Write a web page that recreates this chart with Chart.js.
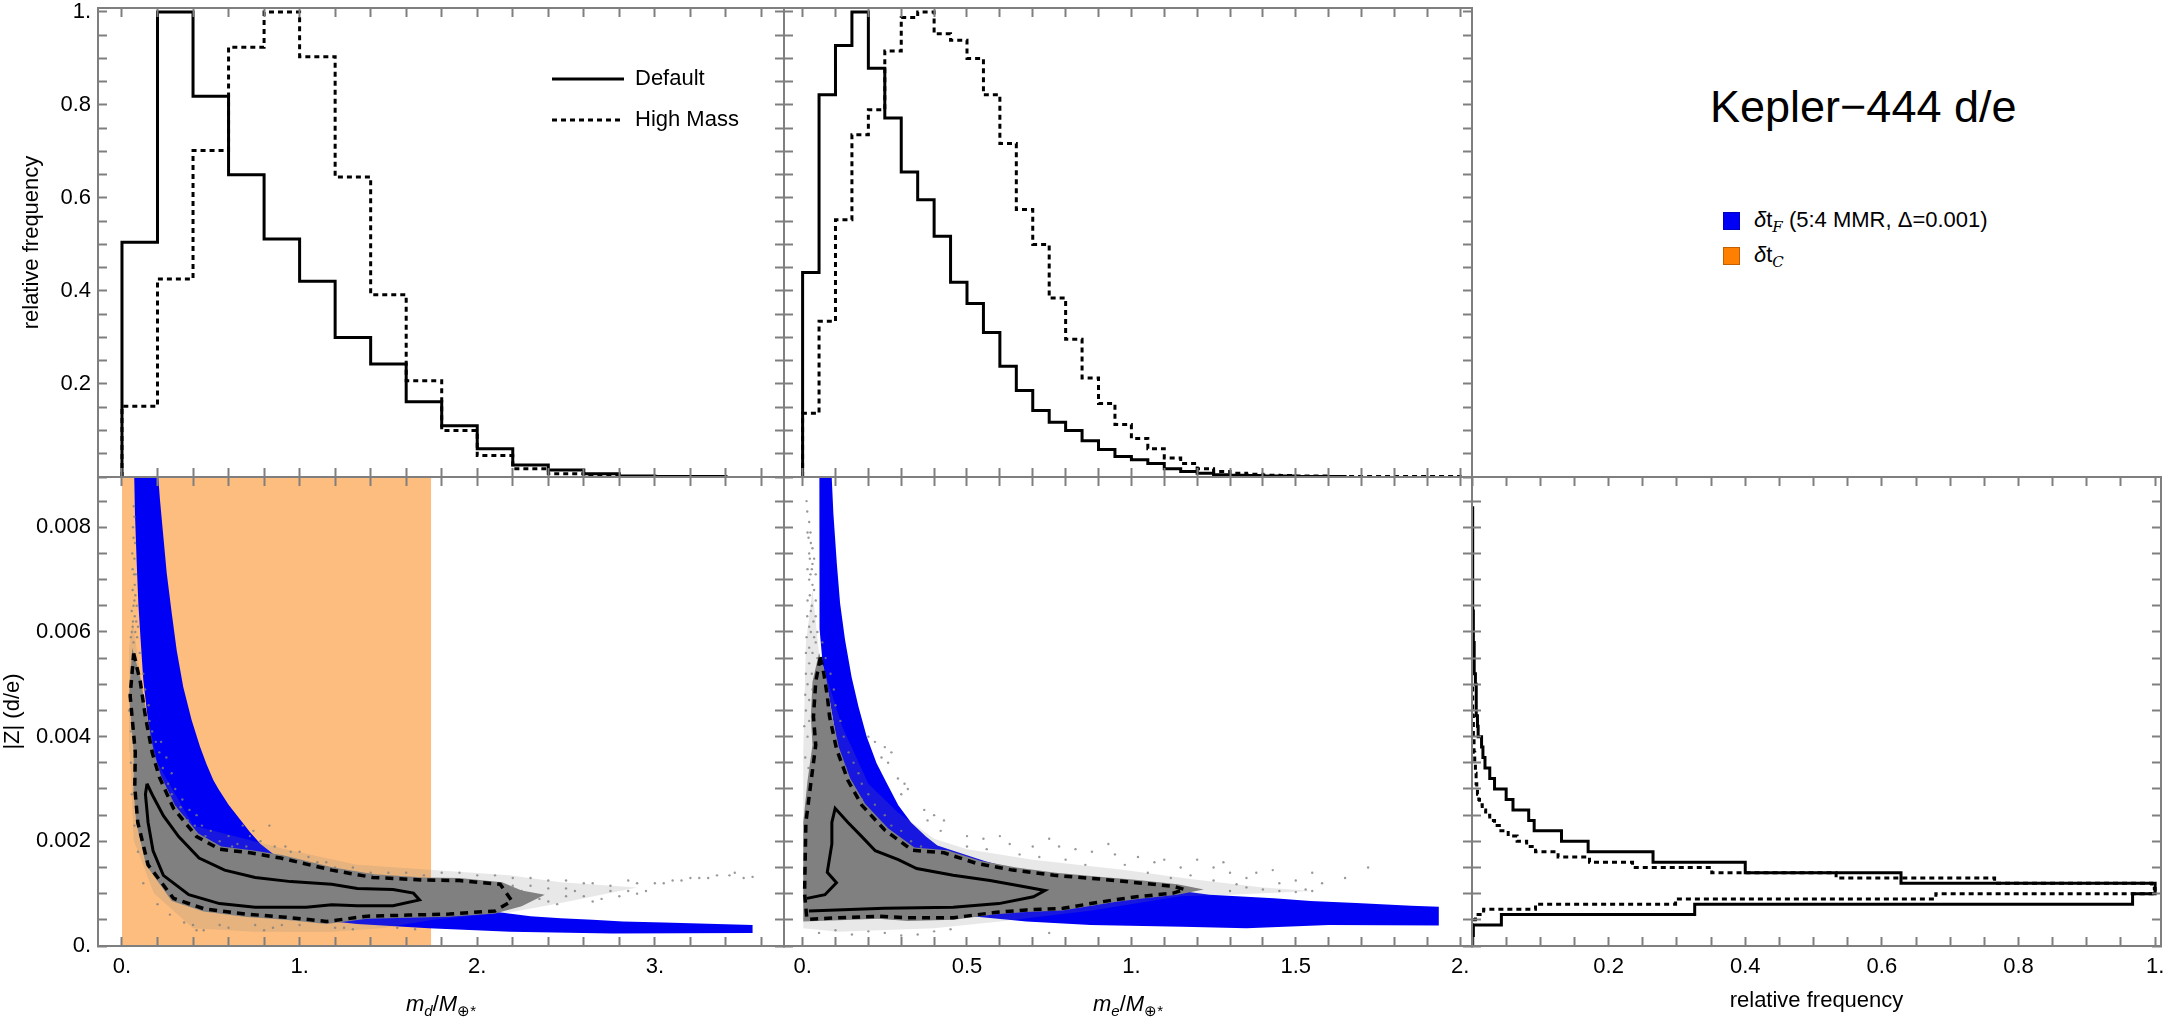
<!DOCTYPE html>
<html>
<head>
<meta charset="utf-8">
<title>Kepler-444 d/e</title>
<script src="https://cdn.jsdelivr.net/npm/chart.js@4/dist/chart.umd.min.js"></script>
<style>
  body { margin: 0; background: #fff; font-family: "Liberation Sans", Arial, sans-serif; color: #000; }
  canvas { position: absolute; }
  .txt { position: absolute; white-space: nowrap; font-size: 22px; line-height: 28px; }
  .txt sub { font-size: 15px; line-height: 0; }
  .xtitle { text-align: center; top: 990px; }
  .swatch { position: absolute; width: 15px; height: 16px; border: 1px solid; }
  .script { font-family: "DejaVu Serif", serif; font-style: italic; }
</style>
</head>
<body>
<canvas id="histD"></canvas>
<canvas id="histE"></canvas>
<canvas id="scatterD"></canvas>
<canvas id="scatterE"></canvas>
<canvas id="histZ"></canvas>

<div class="txt" style="left:1710px; top:84px; font-size:45px; line-height:45px;">Kepler−444 d/e</div>
<div class="swatch" style="left:1723px; top:212px; background:#0000f5; border-color:#0000c0;"></div>
<div class="txt" style="left:1754px; top:206px;"><i>δ</i>t<sub class="script">F</sub> (5:4 MMR, Δ=0.001)</div>
<div class="swatch" style="left:1723px; top:247px; background:#ff8000; border-color:#c06000;"></div>
<div class="txt" style="left:1754px; top:241px;"><i>δ</i>t<sub class="script">C</sub></div>
<div class="txt xtitle" style="left:98px; width:686px;"><i>m<sub>d</sub></i>/<i>M</i><sub>⊕*</sub></div>
<div class="txt xtitle" style="left:784px; width:688px;"><i>m<sub>e</sub></i>/<i>M</i><sub>⊕*</sub></div>

<script>
// tick positions and labels
const freqTicks = [0, 0.2, 0.4, 0.6, 0.8, 1];
const freqLabels = ['', '0.2', '0.4', '0.6', '0.8', '1.'];
const massDTicks = [0, 1, 2, 3];
const massDLabels = ['0.', '1.', '2.', '3.'];
const massETicks = [0, 0.5, 1, 1.5, 2];
const massELabels = ['0.', '0.5', '1.', '1.5', '2.'];
const zTicks = [0, 0.002, 0.004, 0.006, 0.008];
const zLabels = ['0.', '0.002', '0.004', '0.006', '0.008'];

// histograms of m_d (bins 0.2 wide)
const massDBin = 0.2;
const massDDefault = [0.505, 1, 0.819, 0.65, 0.512, 0.421, 0.3, 0.243, 0.162, 0.11, 0.061, 0.026, 0.015, 0.007, 0.002, 0.001, 0.001];
const massDHigh = [0.152, 0.426, 0.702, 0.924, 1, 0.904, 0.645, 0.392, 0.207, 0.1, 0.046, 0.018, 0.007, 0.003, 0.001, 0.001];

// histograms of m_e (bins 0.05 wide)
const massEBin = 0.05;
const massEDefault = [0.44, 0.822, 0.928, 1, 0.879, 0.772, 0.656, 0.596, 0.518, 0.419, 0.373, 0.311, 0.238, 0.186, 0.143, 0.118, 0.1, 0.078, 0.059, 0.044, 0.037, 0.029, 0.018, 0.012, 0.008, 0.005, 0.004, 0.003, 0.002, 0.002, 0.001, 0.001, 0.001];
const massEHigh = [0.137, 0.335, 0.553, 0.736, 0.79, 0.916, 0.988, 1, 0.953, 0.939, 0.9, 0.822, 0.717, 0.575, 0.5, 0.385, 0.296, 0.213, 0.158, 0.113, 0.083, 0.061, 0.041, 0.029, 0.018, 0.012, 0.008, 0.006, 0.004, 0.003, 0.002, 0.002, 0.001, 0.001, 0.001, 0.001, 0.001, 0.001, 0.001, 0.001];

// histograms of |Z| (sideways)
const zDefaultBin = 0.0002;
const zDefault = [0.001, 0.002, 0.043, 0.326, 0.967, 1, 0.628, 0.4, 0.265, 0.17, 0.131, 0.091, 0.083, 0.06, 0.05, 0.033, 0.026, 0.019, 0.016, 0.014, 0.009, 0.008, 0.007, 0.006, 0.006, 0.005, 0.004, 0.003, 0.003, 0.002, 0.002, 0.002, 0.001, 0.001, 0.001, 0.001, 0.001, 0.001, 0.001, 0.001, 0.001, 0.001];
const zHighBin = 0.0001;
const zHigh = [0, 0, 0, 0, 0, 0.005, 0.017, 0.093, 0.298, 0.679, 1, 0.995, 0.765, 0.533, 0.351, 0.235, 0.172, 0.126, 0.093, 0.08, 0.066, 0.053, 0.04, 0.033, 0.026, 0.02, 0.015, 0.011, 0.01, 0.008, 0.007, 0.006, 0.006, 0.005, 0.005, 0.004, 0.004, 0.003, 0.003, 0.003, 0.002, 0.002, 0.002, 0.002, 0.001, 0.001, 0.001, 0.001, 0.001, 0.001];

// delta t_C range on m_d
const orangeD = [[0, 0], [1.74, 0], [1.74, 0.00896], [0, 0.00896]];

// blue delta t_F bands
const blueD = [[0.069, 0.00896], [0.073, 0.00827], [0.083, 0.00731], [0.092, 0.00655], [0.105, 0.00585], [0.12, 0.00508], [0.15, 0.0042], [0.19, 0.0034], [0.29, 0.00269], [0.52, 0.00168], [0.807, 0.00088], [1.095, 0.0005], [1.325, 0.00042], [1.727, 0.00034], [2.187, 0.00027], [2.76, 0.00024], [3.55, 0.00025], [3.55, 0.0004], [3.05, 0.00045], [2.82, 0.00047], [2.65, 0.0005], [2.47, 0.00053], [2.3, 0.00057], [1.9, 0.00074], [1.325, 0.00108], [0.88, 0.00168], [0.78, 0.00195], [0.72, 0.00218], [0.664, 0.00242], [0.6, 0.0027], [0.543, 0.003], [0.514, 0.00317], [0.475, 0.00348], [0.439, 0.00381], [0.392, 0.00432], [0.345, 0.00495], [0.308, 0.00565], [0.28, 0.00636], [0.252, 0.00712], [0.233, 0.00782], [0.214, 0.00852], [0.204, 0.00896]];
const blueE = [[0.051, 0.00896], [0.051, 0.00699], [0.052, 0.00606], [0.061, 0.00539], [0.082, 0.00471], [0.11, 0.0037], [0.166, 0.00269], [0.263, 0.00175], [0.389, 0.00108], [0.514, 0.00057], [0.681, 0.00047], [0.876, 0.0004], [1.155, 0.00037], [1.35, 0.00034], [1.6, 0.0004], [1.935, 0.00039], [1.935, 0.00075], [1.851, 0.00077], [1.684, 0.00082], [1.545, 0.00086], [1.433, 0.00091], [1.238, 0.00098], [1.085, 0.00111], [0.876, 0.00125], [0.681, 0.00141], [0.556, 0.00162], [0.458, 0.00182], [0.41, 0.00192], [0.375, 0.00209], [0.33, 0.00236], [0.291, 0.00269], [0.251, 0.00317], [0.225, 0.00349], [0.195, 0.004], [0.17, 0.00457], [0.149, 0.00514], [0.129, 0.00585], [0.114, 0.00655], [0.104, 0.00731], [0.0935, 0.00827], [0.0885, 0.00896]];

// contours
const outerD = [[0.066, 0.00559], [0.103, 0.00505], [0.132, 0.00438], [0.17, 0.0037], [0.21, 0.00323], [0.29, 0.00263], [0.42, 0.00209], [0.549, 0.00185], [0.721, 0.00178], [0.894, 0.00168], [1.181, 0.00145], [1.411, 0.00131], [1.698, 0.00126], [1.899, 0.00125], [2.129, 0.00118], [2.195, 0.00086], [2.1, 0.00067], [1.842, 0.00061], [1.612, 0.00059], [1.382, 0.00057], [1.152, 0.00047], [0.922, 0.00055], [0.693, 0.00061], [0.463, 0.00071], [0.29, 0.00091], [0.147, 0.00155], [0.089, 0.00236], [0.072, 0.00303], [0.075, 0.0037], [0.046, 0.00478], [0.066, 0.00559]];
const innerD = [[0.141, 0.0031], [0.175, 0.00286], [0.233, 0.00249], [0.319, 0.00209], [0.434, 0.00168], [0.578, 0.00145], [0.75, 0.00131], [0.951, 0.00123], [1.181, 0.00118], [1.325, 0.0011], [1.526, 0.00108], [1.641, 0.00101], [1.675, 0.00088], [1.526, 0.00077], [1.325, 0.00077], [1.181, 0.00079], [1.037, 0.00074], [0.75, 0.00074], [0.549, 0.00081], [0.376, 0.00098], [0.233, 0.00135], [0.175, 0.00182], [0.147, 0.00236], [0.132, 0.0029], [0.141, 0.0031]];
const outerE = [[0.054, 0.00552], [0.065, 0.00519], [0.075, 0.00478], [0.082, 0.00438], [0.103, 0.00377], [0.138, 0.00316], [0.18, 0.00269], [0.249, 0.00222], [0.333, 0.00183], [0.43, 0.00178], [0.528, 0.00158], [0.639, 0.00145], [0.765, 0.00135], [0.904, 0.00128], [1.015, 0.00121], [1.127, 0.00114], [1.162, 0.00108], [1.127, 0.00101], [1.015, 0.00094], [0.946, 0.00088], [0.876, 0.00081], [0.792, 0.00072], [0.681, 0.00069], [0.584, 0.00064], [0.458, 0.00054], [0.319, 0.00054], [0.235, 0.00057], [0.11, 0.00054], [0.013, 0.00051], [0.006, 0.00101], [0.01, 0.00236], [0.026, 0.00316], [0.04, 0.00384], [0.033, 0.00438], [0.04, 0.00505], [0.054, 0.00552]];
const innerE = [[0.013, 0.00091], [0.068, 0.00098], [0.103, 0.00121], [0.075, 0.00141], [0.089, 0.00195], [0.089, 0.00236], [0.099, 0.00263], [0.138, 0.00236], [0.18, 0.00209], [0.221, 0.00182], [0.291, 0.00165], [0.347, 0.00148], [0.458, 0.00135], [0.57, 0.00125], [0.667, 0.00114], [0.737, 0.00106], [0.702, 0.00094], [0.597, 0.00081], [0.458, 0.00074], [0.249, 0.00072], [0.019, 0.00067]];

// sample cloud: dense part, thin outskirts, and single points
const denseD = [[0.058, 0.0057], [0.105, 0.0051], [0.14, 0.0044], [0.18, 0.0037], [0.22, 0.00325], [0.3, 0.00268], [0.43, 0.00215], [0.56, 0.0019], [0.73, 0.00183], [0.9, 0.00174], [1.19, 0.0015], [1.42, 0.00137], [1.7, 0.00131], [1.9, 0.0013], [2.14, 0.00122], [2.25, 0.00106], [2.38, 0.00098], [2.25, 0.00076], [2.1, 0.00062], [1.84, 0.00056], [1.61, 0.00054], [1.38, 0.00052], [1.15, 0.00042], [0.92, 0.0005], [0.69, 0.00056], [0.46, 0.00066], [0.28, 0.00086], [0.135, 0.00155], [0.08, 0.00236], [0.064, 0.00303], [0.066, 0.0037], [0.04, 0.00478]];
const hazeD = [[0.06, 0.0062], [0.12, 0.0048], [0.2, 0.0035], [0.4, 0.0023], [0.69, 0.00205], [0.92, 0.00185], [1.32, 0.00155], [1.75, 0.00145], [2.18, 0.00135], [2.47, 0.00122], [2.9, 0.00112], [2.47, 0.00082], [2.18, 0.00064], [1.75, 0.0005], [1.46, 0.00034], [1.18, 0.00027], [0.75, 0.00027], [0.4, 0.00034], [0.18, 0.00101], [0.066, 0.00202], [0.045, 0.0037], [0.04, 0.0057]];
const speckD = [[0.07, 0.0082], [0.065, 0.0078], [0.07, 0.0074], [0.06, 0.0072], [0.072, 0.0069], [0.075, 0.0067], [0.065, 0.0065], [0.08, 0.0062], [0.06, 0.0061], [0.05, 0.0059], [0.68, 0.0023], [0.74, 0.0022], [0.83, 0.0023], [0.72, 0.0021], [0.78, 0.002], [0.86, 0.0019], [0.92, 0.0019], [0.95, 0.0018], [1, 0.0018], [1.05, 0.0017], [1.1, 0.0016], [1.15, 0.0016], [1.2, 0.0015], [1.3, 0.0015], [1.4, 0.0014], [1.5, 0.0014], [1.6, 0.0014], [1.7, 0.00135], [1.8, 0.0014], [1.9, 0.0014], [2, 0.00135], [2.1, 0.00135], [2.2, 0.0013], [2.3, 0.0013], [2.4, 0.00125], [2.5, 0.00125], [2.6, 0.0012], [2.65, 0.0012], [2.75, 0.00115], [2.85, 0.00125], [2.9, 0.0012], [3, 0.0012], [3.05, 0.0012], [3.1, 0.00125], [3.15, 0.00125], [3.2, 0.0013], [3.25, 0.0013], [3.3, 0.0013], [3.35, 0.00135], [3.42, 0.00135], [3.45, 0.0014], [3.5, 0.0013], [3.55, 0.00132], [0.4, 0.0004], [0.42, 0.0003], [0.46, 0.0003], [0.55, 0.0004], [0.6, 0.00035], [0.75, 0.0004], [0.8, 0.0003], [0.85, 0.00035], [0.9, 0.0004], [1, 0.0004], [1.2, 0.00035], [1.25, 0.00035], [1.3, 0.00032], [1.55, 0.00035], [1.65, 0.00032], [2.2, 0.00115], [2.25, 0.00105], [2.3, 0.00095], [2.35, 0.0009], [2.4, 0.00085], [2.45, 0.0008], [2.5, 0.00095], [2.55, 0.00105], [2.6, 0.00095], [2.65, 0.00085], [2.7, 0.0009], [2.75, 0.00105], [2.8, 0.00095], [2.85, 0.00105], [2.9, 0.001], [2.95, 0.00105], [2.4, 0.0011], [2.5, 0.0011], [2.3, 0.00115],
    [0.067, 0.0084], [0.062, 0.008], [0.074, 0.0077], [0.058, 0.0075], [0.068, 0.0071], [0.078, 0.0071], [0.06, 0.0068], [0.07, 0.0066], [0.083, 0.0065], [0.055, 0.0064], [0.072, 0.0063], [0.062, 0.0062], [0.09, 0.0061], [0.075, 0.006], [0.055, 0.006], [0.085, 0.0059], [0.065, 0.0058], [0.1, 0.0056], [0.12, 0.0052], [0.13, 0.0049], [0.15, 0.0046], [0.155, 0.0043], [0.17, 0.0041], [0.19, 0.0039], [0.21, 0.0037], [0.22, 0.0039], [0.25, 0.0036], [0.23, 0.0034], [0.28, 0.0033], [0.26, 0.0031], [0.3, 0.003], [0.28, 0.0029], [0.34, 0.0028], [0.33, 0.00265], [0.38, 0.0026], [0.37, 0.0024], [0.42, 0.0025], [0.41, 0.0023], [0.45, 0.0023], [0.5, 0.0022], [0.47, 0.0021], [0.55, 0.002], [0.52, 0.00195], [0.6, 0.0021], [0.65, 0.00195], [0.62, 0.0019], [0.7, 0.0019], [0.8, 0.00175], [0.24, 0.0029], [0.3, 0.00265], [0.35, 0.00245], [0.4, 0.0021], [0.1, 0.0047], [0.11, 0.0043], [0.14, 0.0039], [0.16, 0.0035], [0.19, 0.0031], [0.04, 0.0045], [0.05, 0.0041], [0.05, 0.0035], [0.055, 0.0029], [0.07, 0.0023], [0.09, 0.0018], [0.12, 0.0012], [0.2, 0.0008], [0.27, 0.0006], [0.35, 0.00045]];
const denseE = [[0.05, 0.0056], [0.07, 0.0052], [0.08, 0.0048], [0.09, 0.0044], [0.11, 0.0038], [0.145, 0.0032], [0.19, 0.00272], [0.26, 0.00225], [0.34, 0.00188], [0.44, 0.00183], [0.54, 0.00163], [0.65, 0.0015], [0.77, 0.0014], [0.91, 0.00132], [1.02, 0.00126], [1.14, 0.00118], [1.22, 0.00108], [1.14, 0.00098], [1.02, 0.0009], [0.95, 0.00084], [0.88, 0.00077], [0.79, 0.00068], [0.68, 0.00065], [0.58, 0.0006], [0.46, 0.0005], [0.32, 0.00048], [0.23, 0.00052], [0.11, 0.00049], [0.002, 0.00047], [0.002, 0.00236], [0.015, 0.00316], [0.03, 0.00384], [0.025, 0.00438], [0.03, 0.00505]];
const hazeE = [[0.03, 0.0068], [0.05, 0.0056], [0.12, 0.0042], [0.2, 0.0031], [0.29, 0.00255], [0.4, 0.00205], [0.5, 0.00185], [0.7, 0.00165], [0.98, 0.00145], [1.18, 0.00128], [1.4, 0.00112], [1.55, 0.00105], [1.3, 0.00098], [1.15, 0.00095], [0.88, 0.00068], [0.6, 0.00047], [0.4, 0.00034], [0.11, 0.00027], [0.002, 0.00034], [0.002, 0.0037], [0.01, 0.0058]];
const speckE = [[0.012, 0.0085], [0.02, 0.0081], [0.015, 0.0079], [0.025, 0.0077], [0.02, 0.0075], [0.03, 0.0073], [0.024, 0.0071], [0.03, 0.0069], [0.022, 0.0067], [0.028, 0.0065], [0.04, 0.0063], [0.02, 0.0061], [0.035, 0.0059], [0.2, 0.004], [0.22, 0.0039], [0.25, 0.0038], [0.27, 0.0037], [0.24, 0.0036], [0.26, 0.0035], [0.29, 0.0032], [0.31, 0.0031], [0.3, 0.0029], [0.32, 0.003], [0.37, 0.0026], [0.4, 0.0025], [0.38, 0.0024], [0.43, 0.0024], [0.42, 0.0022], [0.5, 0.0021], [0.55, 0.00205], [0.6, 0.0021], [0.63, 0.00195], [0.7, 0.0019], [0.75, 0.00205], [0.78, 0.0019], [0.83, 0.00185], [0.88, 0.0018], [0.93, 0.00195], [0.95, 0.00175], [1.02, 0.0017], [1.07, 0.0016], [1.1, 0.00165], [1.15, 0.0015], [1.2, 0.00165], [1.25, 0.0015], [1.3, 0.0014], [1.28, 0.0016], [1.35, 0.0013], [1.38, 0.0014], [1.43, 0.00145], [1.45, 0.0012], [1.5, 0.00125], [1.55, 0.0014], [1.58, 0.0012], [1.65, 0.0013], [1.72, 0.0015], [0.05, 0.00025], [0.1, 0.0003], [0.15, 0.00022], [0.2, 0.00028], [0.25, 0.00025], [0.3, 0.0002], [0.35, 0.00022], [0.4, 0.00028], [0.45, 0.00032], [0.75, 0.00025], [1.4, 0.00108], [1.45, 0.00105], [1.5, 0.00103], [1.53, 0.00108], [1.55, 0.00105], [1.3, 0.00105], [1.35, 0.00112],
    [0.014, 0.0083], [0.024, 0.0079], [0.018, 0.0078], [0.03, 0.0076], [0.022, 0.0074], [0.035, 0.0074], [0.015, 0.0072], [0.028, 0.0072], [0.04, 0.0071], [0.02, 0.007], [0.035, 0.0068], [0.015, 0.0066], [0.04, 0.0066], [0.025, 0.0064], [0.014, 0.0063], [0.033, 0.0062], [0.045, 0.006], [0.025, 0.006], [0.012, 0.0059], [0.04, 0.0058], [0.02, 0.0057], [0.03, 0.0056], [0.01, 0.0056], [0.045, 0.0055], [0.02, 0.0054], [0.01, 0.0052], [0.028, 0.0052], [0.015, 0.005], [0.03, 0.0049], [0.008, 0.0048], [0.02, 0.0047], [0.01, 0.0045], [0.02, 0.0043], [0.005, 0.0042], [0.015, 0.004], [0.008, 0.0036], [0.018, 0.0034], [0.06, 0.0058], [0.07, 0.0055], [0.085, 0.0052], [0.095, 0.0049], [0.1, 0.0046], [0.115, 0.0043], [0.125, 0.004], [0.14, 0.0037], [0.155, 0.0035], [0.17, 0.0033], [0.18, 0.0031], [0.2, 0.0029], [0.22, 0.0027], [0.25, 0.0025], [0.27, 0.0023], [0.3, 0.0022], [0.33, 0.002], [0.36, 0.0019], [0.13, 0.0034], [0.15, 0.0031], [0.18, 0.0028], [0.21, 0.0025], [0.24, 0.0023], [0.28, 0.0021], [0.5, 0.0019], [0.56, 0.00185], [0.66, 0.00175], [0.72, 0.0017], [0.8, 0.00165], [0.86, 0.00155], [0.98, 0.00155], [1.05, 0.0014], [1.12, 0.0013], [1.18, 0.00135], [1.25, 0.00125], [1.32, 0.00118]];

const frameGrey = '#7f7f7f';
const labelFont = { family: '"Liberation Sans", Arial, sans-serif', size: 22 };

// every 0.2, 0.05 ... the small inward ticks, positions only
function tickRange(step, last) {
    const out = [];
    for (let i = 0; i * step <= last + step / 1000; i++) out.push(+(i * step).toFixed(6));
    return out;
}

// step outline of a histogram along x
function stepsAlongX(values, bin) {
    const pts = [{ x: 0, y: 0 }];
    values.forEach((v, i) => {
        pts.push({ x: i * bin, y: v }, { x: (i + 1) * bin, y: v });
    });
    pts.push({ x: values.length * bin, y: 0 });
    return pts;
}

// same thing turned sideways for the |Z| panel
function stepsAlongY(values, bin) {
    const pts = [{ x: 0, y: 0 }];
    values.forEach((v, i) => {
        pts.push({ x: v, y: i * bin }, { x: v, y: (i + 1) * bin });
    });
    return pts;
}

function toPoints(pairs) {
    return pairs.map(p => ({ x: p[0], y: p[1] }));
}

function histLine(label, pts, dashed) {
    return {
        label: label, data: pts, showLine: true, pointRadius: 0, fill: false,
        borderColor: '#000', borderWidth: 3, borderDash: dashed ? [5, 4] : [],
        order: dashed ? 1 : 0
    };
}

function areaSet(pairs, color, order) {
    return {
        data: toPoints(pairs), showLine: true, pointRadius: 0, borderWidth: 0,
        borderColor: color, backgroundColor: color, fill: 'shape', order: order
    };
}

function contourLine(pairs, dashed) {
    return {
        data: toPoints(pairs), showLine: true, pointRadius: 0, fill: false,
        borderColor: '#000', borderWidth: dashed ? 3.5 : 3,
        borderDash: dashed ? [8, 6] : [], order: dashed ? 1 : 0
    };
}

function speckSet(pairs) {
    return {
        data: toPoints(pairs), showLine: false, pointRadius: 1.2, pointBorderWidth: 0,
        pointBackgroundColor: 'rgba(128,128,128,0.8)', order: 3
    };
}

function cloudSets(blue, haze, dense, speck, outer, inner) {
    return [
        contourLine(inner, false),
        contourLine(outer, true),
        areaSet(dense, '#808080', 2),
        speckSet(speck),
        areaSet(haze, 'rgba(128,128,128,0.18)', 4),
        areaSet(blue, '#0000f5', 5)
    ];
}

function makeAxis(pos, range, tickVals, size, labelVals, labelText, title) {
    const vertical = pos === 'left' || pos === 'right';
    return {
        type: 'linear', axis: vertical ? 'y' : 'x', position: pos,
        min: range[0], max: range[1],
        afterBuildTicks: s => { s.ticks = tickVals.map(v => ({ value: v })); },
        afterFit: s => {
            if (vertical) s.width = size; else s.height = size;
            s.paddingLeft = s.paddingRight = s.paddingTop = s.paddingBottom = 0;
        },
        grid: { drawOnChartArea: false, tickLength: -9, tickWidth: 2, tickColor: frameGrey, z: 1 },
        border: { color: frameGrey, width: 2, z: 1 },
        ticks: {
            display: !!labelVals, autoSkip: false, maxRotation: 0, minRotation: 0,
            padding: vertical ? 16 : 17, color: '#000', font: labelFont,
            callback: v => {
                const k = labelVals ? labelVals.findIndex(t => Math.abs(t - v) < 1e-9) : -1;
                return k >= 0 ? labelText[k] : '';
            }
        },
        title: title
            ? { display: true, text: title.text, color: '#000', font: labelFont, padding: title.padding }
            : { display: false }
    };
}

// frame = plot box on the page; margins make room for labels around it
function addPanel(id, frame, datasets, xr, yr, xTicks, yTicks, opts) {
    const m = { left: opts.left || 2, top: opts.top || 2, right: 2, bottom: opts.bottom || 2 };
    const canvas = document.getElementById(id);
    canvas.width = frame[2] - frame[0] + m.left + m.right;
    canvas.height = frame[3] - frame[1] + m.top + m.bottom;
    canvas.style.left = (frame[0] - m.left) + 'px';
    canvas.style.top = (frame[1] - m.top) + 'px';
    return new Chart(canvas, {
        type: 'scatter',
        data: { datasets: datasets },
        options: {
            responsive: false, animation: false, devicePixelRatio: 1,
            layout: { autoPadding: false, padding: { top: m.top, right: m.right } },
            scales: {
                x: makeAxis('bottom', xr, xTicks, m.bottom, opts.xVals, opts.xText, opts.xTitle),
                y: makeAxis('left', yr, yTicks, m.left, opts.yVals, opts.yText, opts.yTitle),
                x2: makeAxis('top', xr, xTicks, 0),
                y2: makeAxis('right', yr, yTicks, 0)
            },
            plugins: {
                tooltip: { enabled: false },
                legend: opts.legend || { display: false }
            }
        },
        plugins: opts.plugins || []
    });
}

// puts the Default / High Mass key where it sits in the first panel
const keyPlacement = {
    id: 'keyPlacement',
    afterLayout(chart) {
        chart.legend.left = 533;
        chart.legend.right = 760;
        chart.legend.top = 49;
    }
};

const colX = [98, 784, 1472, 2161];
const rowY = [8, 477, 946];
const freqRange = [0, 1.0086];
const massDRange = [-0.135, 3.727];
const massERange = [-0.0566, 2.036];
const zRange = [0, 0.00896];
const freqMinor = tickRange(0.05, 1);
const zMinor = tickRange(0.0005, 0.0085);

addPanel('histD', [colX[0], rowY[0], colX[1], rowY[1]], [
    histLine('Default', stepsAlongX(massDDefault, massDBin), false),
    histLine('High Mass', stepsAlongX(massDHigh, massDBin), true)
], massDRange, freqRange, tickRange(0.2, 3.6), freqMinor, {
    left: 98, top: 8, yVals: freqTicks, yText: freqLabels,
    yTitle: { text: 'relative frequency', padding: { top: 19, bottom: 0 } },
    plugins: [keyPlacement],
    legend: {
        display: true, position: 'chartArea', align: 'start',
        labels: {
            usePointStyle: true, pointStyle: 'line', pointStyleWidth: 72,
            color: '#000', font: labelFont, padding: 19,
            // point style items lose the dash pattern, so copy it back from the dataset
            generateLabels: chart => Chart.defaults.plugins.legend.labels.generateLabels(chart).map(item => {
                item.lineDash = chart.data.datasets[item.datasetIndex].borderDash;
                return item;
            })
        }
    }
});

addPanel('histE', [colX[1], rowY[0], colX[2], rowY[1]], [
    histLine('Default', stepsAlongX(massEDefault, massEBin), false),
    histLine('High Mass', stepsAlongX(massEHigh, massEBin), true)
], massERange, freqRange, tickRange(0.1, 2), freqMinor, { top: 8 });

addPanel('scatterD', [colX[0], rowY[1], colX[1], rowY[2]],
    cloudSets(blueD, hazeD, denseD, speckD, outerD, innerD).concat(areaSet(orangeD, '#fdbd7e', 6)),
    massDRange, zRange, tickRange(0.2, 3.6), zMinor, {
        left: 98, bottom: 77, xVals: massDTicks, xText: massDLabels,
        yVals: zTicks, yText: zLabels,
        yTitle: { text: '|Z| (d/e)', padding: { top: 0, bottom: 0 } }
    });

addPanel('scatterE', [colX[1], rowY[1], colX[2], rowY[2]],
    cloudSets(blueE, hazeE, denseE, speckE, outerE, innerE),
    massERange, zRange, tickRange(0.1, 2), zMinor, {
        bottom: 77, xVals: massETicks, xText: massELabels
    });

addPanel('histZ', [colX[2], rowY[1], colX[3], rowY[2]], [
    histLine('Default', stepsAlongY(zDefault, zDefaultBin), false),
    histLine('High Mass', stepsAlongY(zHigh, zHighBin), true)
], freqRange, zRange, freqMinor, zMinor, {
    bottom: 77, xVals: freqTicks, xText: freqLabels,
    xTitle: { text: 'relative frequency', padding: { top: 0, bottom: 9 } }
});
</script>
</body>
</html>
